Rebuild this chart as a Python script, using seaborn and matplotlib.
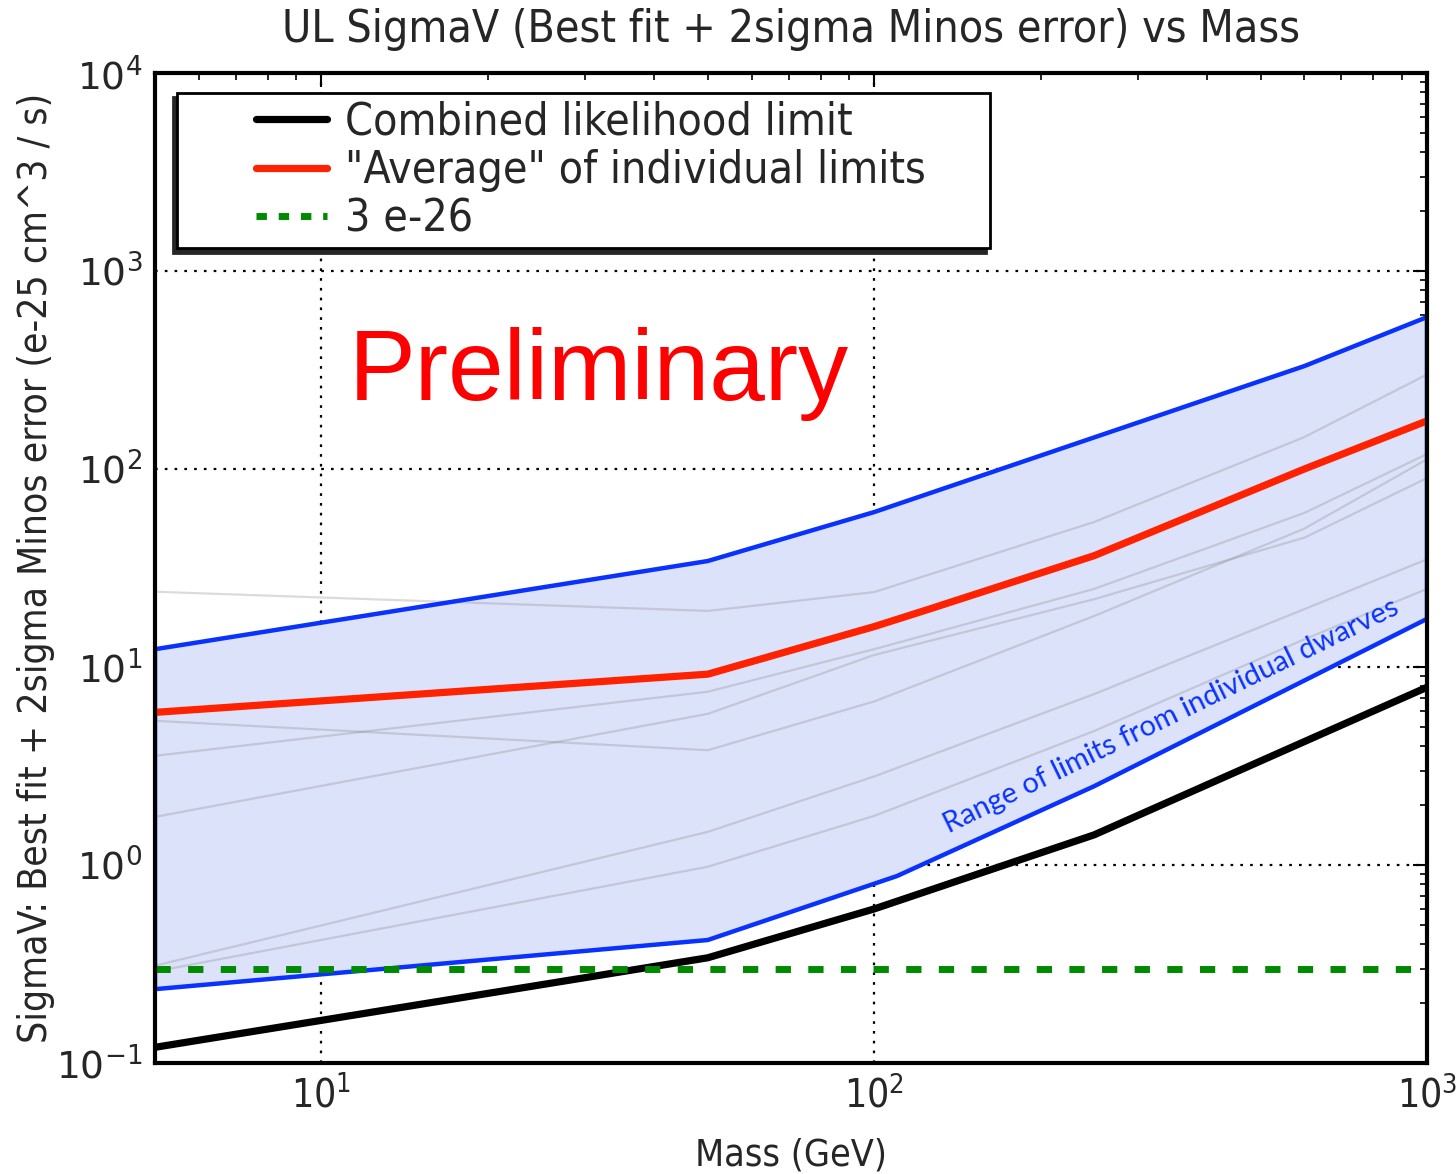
import os
import numpy as np
import pandas as pd
import matplotlib
matplotlib.use("Agg")
import matplotlib.pyplot as plt
import seaborn as sns
from matplotlib import font_manager as fm
from matplotlib.font_manager import FontProperties
from matplotlib.lines import Line2D
from matplotlib.legend_handler import HandlerLine2D
from matplotlib.ticker import LogLocator, LogFormatterSciNotation, NullFormatter

# ---- data (sigma v in units of 1e-25 cm^3/s, mass in GeV) ----
mass_combined = [5, 50, 100, 250, 600, 1000]
sigv_combined = [0.12, 0.34, 0.60, 1.42, 4.2, 7.9]

mass_average = [5, 50, 100, 125, 250, 600, 1000]
sigv_average = [5.9, 9.2, 16.0, 19.5, 36.5, 100, 175]

mass_band_upper = [5, 50, 100, 600, 1000]
sigv_band_upper = [12.3, 34.3, 60.6, 331, 585]
mass_band_lower = [5, 50, 110, 250, 1000]
sigv_band_lower = [0.236, 0.418, 0.88, 2.5, 17.5]

mass_thermal = [5, 1000]
sigv_thermal = [0.3, 0.3]

mass_dwarf = [5, 50, 100, 250, 600, 1000]
sigv_dwarf_1 = [24.0, 19.2, 23.9, 54.0, 145, 300]
sigv_dwarf_2 = [5.35, 3.8, 6.7, 18.1, 50, 112]
sigv_dwarf_3 = [3.56, 7.5, 12.3, 24.8, 60, 119]
sigv_dwarf_4 = [1.75, 5.8, 11.5, 22.0, 45, 90]
sigv_dwarf_5 = [0.31, 1.47, 2.8, 7.3, 19.6, 35]
sigv_dwarf_6 = [0.29, 0.98, 1.77, 4.75, 13.8, 24.8]

legend_labels = ["Combined likelihood limit",
                 "\"Average\" of individual limits",
                 "3 e-26"]

# ---- fonts ----
sns.set_style("white")


def condensed_font_file():
    preferred = ["DejaVuSansCondensed.ttf", "LiberationSansNarrow-Regular.ttf",
                 "RobotoCondensed-Regular.ttf", "OpenSans-CondensedRegular.ttf"]
    files = [f.fname for f in fm.fontManager.ttflist]
    for name in preferred:
        for f in files:
            if os.path.basename(f) == name:
                return f
    for f in files:
        b = os.path.basename(f)
        if ("Condensed" in b or "Narrow" in b) and not any(
                k in b for k in ("Bold", "Italic", "Oblique", "Light", "Thin", "Black", "Medium")):
            return f
    return None


cond_file = condensed_font_file()


def cfont(size):
    if cond_file:
        return FontProperties(fname=cond_file, size=size)
    return FontProperties(family="DejaVu Sans", size=size * 0.85)


plt.rcParams["font.family"] = ["DejaVu Sans"]
plt.rcParams["mathtext.fontset"] = "dejavusans"
plt.rcParams["axes.unicode_minus"] = False


class RightLineHandler(HandlerLine2D):
    """Draws the legend line only over the right part of the handle box."""

    def __init__(self, frac=0.5, **kw):
        super().__init__(**kw)
        self.frac = frac

    def create_artists(self, legend, orig_handle, xdescent, ydescent, width, height,
                       fontsize, trans):
        shift = width * (1 - self.frac)
        return super().create_artists(legend, orig_handle, xdescent - shift, ydescent,
                                      width - shift, height, fontsize, trans)


fig = plt.figure(figsize=(14.56, 11.74), dpi=100)
ax = fig.add_axes([155 / 1456, 1 - 1063 / 1174, (1427 - 155) / 1456, (1063 - 73) / 1174])
ax.set_xscale("log")
ax.set_yscale("log")

# ---- band of individual limits ----
band_x = mass_band_lower + mass_band_upper[::-1]
band_y = sigv_band_lower + sigv_band_upper[::-1]
ax.fill(band_x, band_y, facecolor="#dce2f9", edgecolor="none", zorder=1)

# individual dwarf limits
dwarf_sets = [sigv_dwarf_1, sigv_dwarf_2, sigv_dwarf_3, sigv_dwarf_4, sigv_dwarf_5, sigv_dwarf_6]
df_dwarf = pd.DataFrame({
    "mass": np.tile(mass_dwarf, len(dwarf_sets)),
    "sigv": np.concatenate(dwarf_sets),
    "dwarf": np.repeat(np.arange(len(dwarf_sets)), len(mass_dwarf)),
})
sns.lineplot(data=df_dwarf, x="mass", y="sigv", units="dwarf", estimator=None,
             color="#808080", alpha=0.28, lw=1.6, ax=ax, zorder=2, legend=False)

# band outline
ax.fill(band_x, band_y, facecolor="none", edgecolor="#0a32ff", lw=3.2, zorder=3)

sns.lineplot(x=mass_combined, y=sigv_combined, color="black", lw=5.2, ax=ax, zorder=5)
sns.lineplot(x=mass_average, y=sigv_average, color="#ff2200", lw=5.2, ax=ax, zorder=5)
sns.lineplot(x=mass_thermal, y=sigv_thermal, color="#008a00", lw=5.0, ax=ax, zorder=6,
             dashes=False).lines[-1].set_dashes((2.2, 2.5))

ax.set_xlim(5, 1000)
ax.set_ylim(0.1, 1e4)

# ---- grid, ticks, spines ----
ax.grid(True, which="major", color="black", linestyle=(0, (1.2, 3.2)), lw=1.6, zorder=1.5)
ax.xaxis.set_major_locator(LogLocator(base=10, numticks=10))
ax.yaxis.set_major_locator(LogLocator(base=10, numticks=10))
ax.xaxis.set_minor_locator(LogLocator(base=10, subs=np.arange(2, 10), numticks=20))
ax.yaxis.set_minor_locator(LogLocator(base=10, subs=np.arange(2, 10), numticks=20))
ax.xaxis.set_major_formatter(LogFormatterSciNotation())
ax.yaxis.set_major_formatter(LogFormatterSciNotation())
ax.xaxis.set_minor_formatter(NullFormatter())
ax.yaxis.set_minor_formatter(NullFormatter())
ax.tick_params(which="both", direction="in", top=True, right=True, color="black")
ax.tick_params(which="major", length=10, width=1.5)
ax.tick_params(which="minor", length=5, width=1.2)
ax.tick_params(axis="y", which="major", labelsize=27, pad=9)
ax.tick_params(axis="x", which="major", pad=9)
for s in ax.spines.values():
    s.set_linewidth(3)
    s.set_color("black")
    s.set_zorder(10)

fig.canvas.draw()
for lbl in ax.get_xticklabels():
    lbl.set_fontproperties(cfont(28))

# ---- labels ----
ax.set_title("UL SigmaV (Best fit + 2sigma Minos error) vs Mass", fontproperties=cfont(32), pad=22)
ax.set_xlabel("Mass (GeV)", fontproperties=cfont(27), labelpad=16)
ax.set_ylabel("SigmaV: Best fit + 2sigma Minos error (e-25 cm^3 / s)", fontproperties=cfont(28))
ax.yaxis.set_label_coords(-0.079, 0.5)

ax.text(0.152, 0.67, "Preliminary", transform=ax.transAxes, color="#ff0000",
        fontsize=72, family=["Liberation Sans", "DejaVu Sans"], ha="left", va="baseline", zorder=7)
ax.text(0.624, 0.232, "Range of limits from individual dwarves", transform=ax.transAxes,
        color="#0a32ff", fontsize=21, family=["Lato", "DejaVu Sans"], rotation=26,
        rotation_mode="anchor", ha="left", va="baseline", zorder=7)

# ---- legend ----
handles = [Line2D([], [], color="black", lw=5.2),
           Line2D([], [], color="#ff2200", lw=5.2),
           Line2D([], [], color="#008a00", lw=5.0, dashes=(1.5, 1.7))]
leg = ax.legend(handles, legend_labels, loc="upper left",
                bbox_to_anchor=(0.0173, 0.0, 0.639, 0.98), mode="expand",
                borderaxespad=0, prop=cfont(32), handlelength=3.2, handletextpad=0.4,
                labelspacing=0.12, borderpad=0.18, fancybox=False, framealpha=1,
                edgecolor="black", shadow={"ox": -3, "oy": -3, "color": "0.15", "alpha": 1},
                handler_map={Line2D: RightLineHandler(frac=0.5)})
leg.get_frame().set_linewidth(2)
leg.set_zorder(20)

fig.savefig("out.png", dpi=100)
